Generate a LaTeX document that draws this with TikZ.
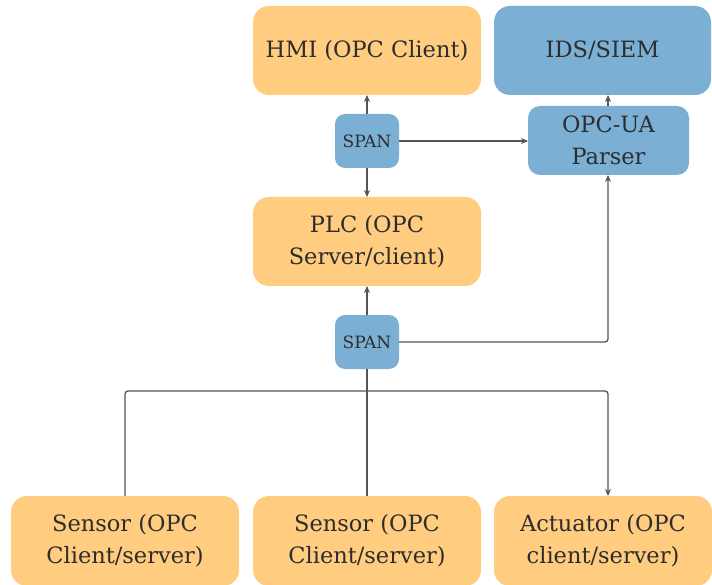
\documentclass[tikz,border=0pt]{standalone}
\usepackage{fontspec}
\setmainfont{DejaVu Serif}
\usetikzlibrary{arrows.meta}
\definecolor{boxorange}{RGB}{255,204,128}
\definecolor{boxblue}{RGB}{123,175,212}
\definecolor{txt}{RGB}{45,45,45}
\definecolor{wire}{RGB}{85,85,85}
\begin{document}
\begin{tikzpicture}[x=1pt,y=-1pt,
  box/.style={fill=#1,draw=none,rounded corners=16pt,text=txt,align=center,font=\fontsize{22.5}{32}\selectfont},
  smallbox/.style={fill=boxblue,draw=none,rounded corners=10pt,text=txt,align=center,font=\fontsize{17}{20}\selectfont},
  wireline/.style={draw=wire,line width=1.3pt,rounded corners=3pt},
  arr/.style={wireline,-{Stealth[length=7pt,width=6pt]}}]
\useasboundingbox (0,0) rectangle (712,585);
\path[box=boxorange] (253,6) rectangle (481,95) node[midway] (hmi) {HMI (OPC Client)};
\path[box=boxblue] (494,6) rectangle (711,95) node[midway] (ids) {IDS/SIEM};
\path[smallbox] (335,114) rectangle (399,168) node[midway] (span1) {SPAN};
\path[box=boxblue,rounded corners=12pt] (528,106) rectangle (689,175) node[midway] (parser) {OPC-UA\\Parser};
\path[box=boxorange] (253,197) rectangle (481,286) node[midway] (plc) {PLC (OPC\\Server/client)};
\path[smallbox] (335,315) rectangle (399,369) node[midway] (span2) {SPAN};
\path[box=boxorange] (11,496) rectangle (239,586) node[midway] (s1) {Sensor (OPC\\Client/server)};
\path[box=boxorange] (253,496) rectangle (481,586) node[midway] (s2) {Sensor (OPC\\Client/server)};
\path[box=boxorange] (494,496) rectangle (712,586) node[midway] (act) {Actuator (OPC\\client/server)};
% anchors
\coordinate (hmiB) at (367,95);
\coordinate (span1T) at (367,114);
\coordinate (span1B) at (367,168);
\coordinate (span1R) at (399,141);
\coordinate (plcT) at (367,197);
\coordinate (plcB) at (367,286);
\coordinate (parserL) at (528,141);
\coordinate (parserT) at (608,106);
\coordinate (parserB) at (608,175);
\coordinate (idsB) at (608,95);
\coordinate (span2T) at (367,315);
\coordinate (span2B) at (367,369);
\coordinate (span2R) at (399,342);
\coordinate (s1T) at (125,496);
\coordinate (s2T) at (367,496);
\coordinate (actT) at (608,496);
\coordinate (bus) at (367,391);
\draw[arr] (span1T) -- (hmiB);
\draw[arr] (span1B) -- (plcT);
\draw[arr] (span1R) -- (parserL);
\draw[arr] (parserT) -- (idsB);
\draw[arr] (span2T) -- (plcB);
\draw[arr] (span2R) -| (parserB);
\draw[wireline] (s1T) |- (bus);
\draw[wireline] (s2T) -- (span2B);
\draw[arr] (bus) -| (actT);
\end{tikzpicture}
\end{document}
